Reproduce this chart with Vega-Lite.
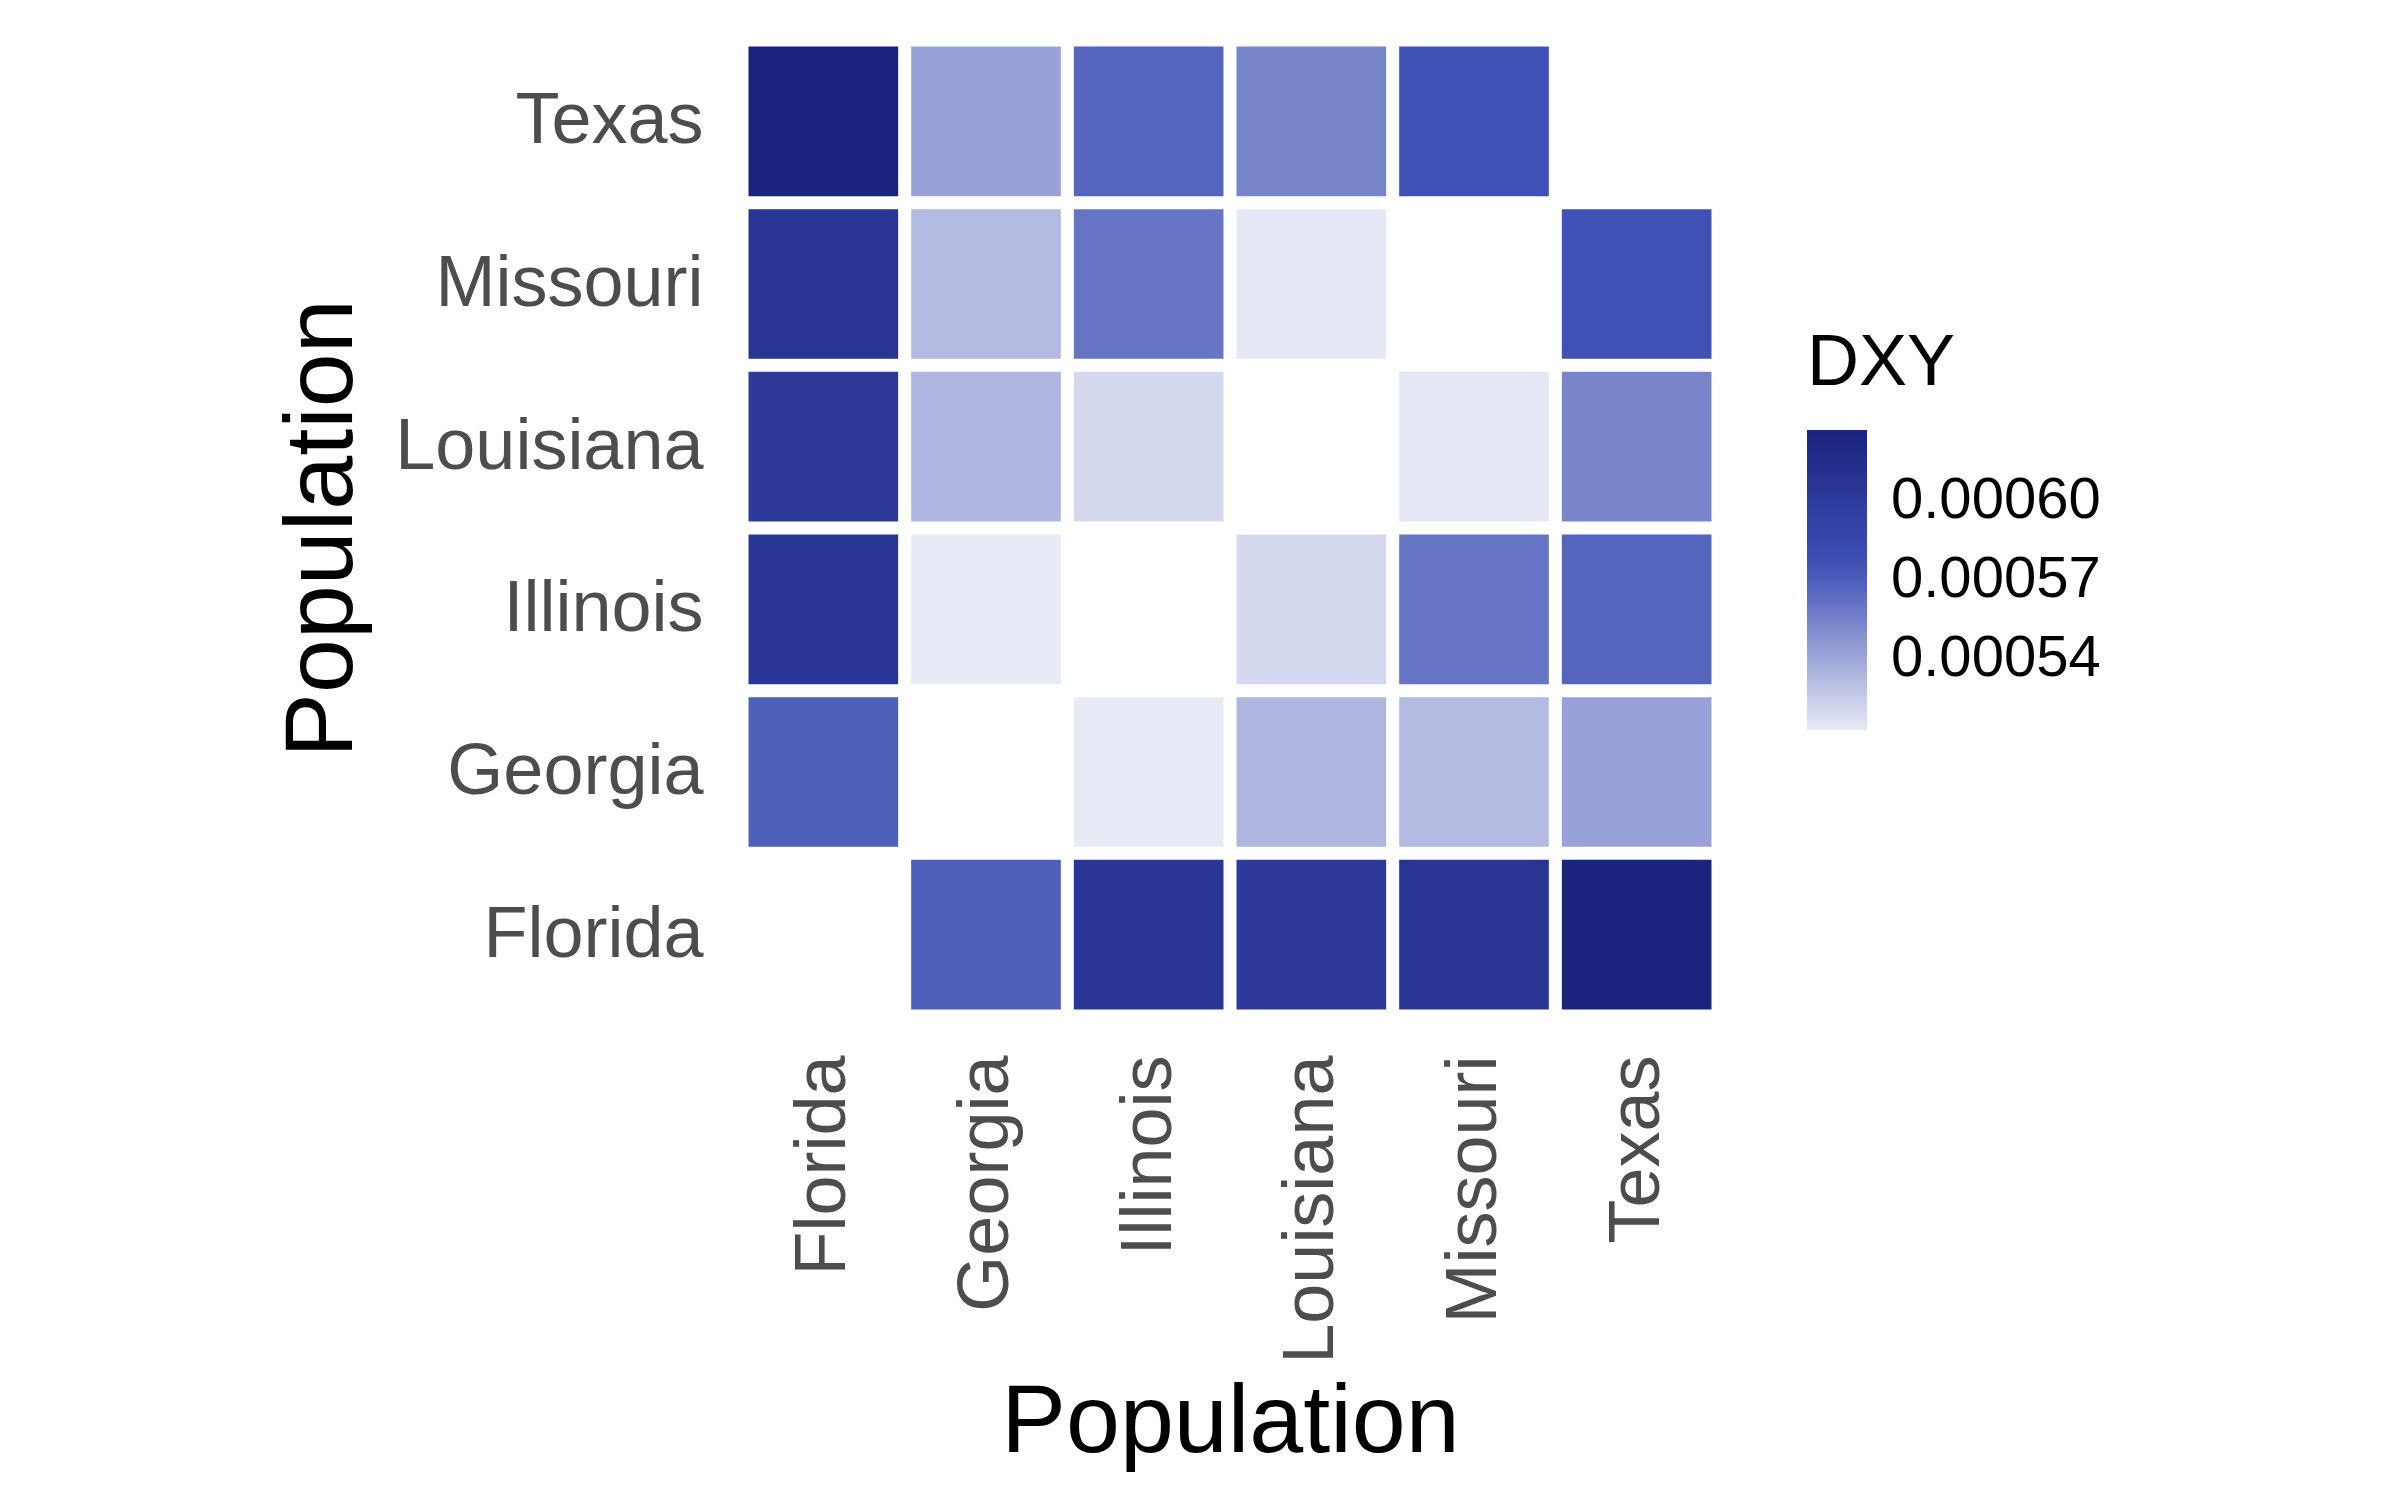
{
  "$schema": "https://vega.github.io/schema/vega-lite/v6.json",
  "width": 976,
  "height": 976,
  "autosize": {"type": "none"},
  "padding": {"left": 742, "top": 40, "right": 682, "bottom": 484},
  "background": "white",
  "config": {
    "view": {"stroke": null},
    "font": "Liberation Sans",
    "axis": {"domain": false, "ticks": false, "grid": false, "labelColor": "#4D4D4D", "titleColor": "#000000", "labelFontSize": 72, "titleFontSize": 97, "titleFontWeight": "normal", "labelPadding": 39, "labelLimit": 0}
  },
  "data": {
    "values": [
      {"a": "Florida", "b": "Georgia", "d": 0.000569},
      {"a": "Florida", "b": "Illinois", "d": 0.000605},
      {"a": "Florida", "b": "Louisiana", "d": 0.000602},
      {"a": "Florida", "b": "Missouri", "d": 0.000607},
      {"a": "Florida", "b": "Texas", "d": 0.000627},
      {"a": "Georgia", "b": "Florida", "d": 0.000569},
      {"a": "Georgia", "b": "Illinois", "d": 0.000513},
      {"a": "Georgia", "b": "Louisiana", "d": 0.000534},
      {"a": "Georgia", "b": "Missouri", "d": 0.000532},
      {"a": "Georgia", "b": "Texas", "d": 0.000542},
      {"a": "Illinois", "b": "Florida", "d": 0.000605},
      {"a": "Illinois", "b": "Georgia", "d": 0.000513},
      {"a": "Illinois", "b": "Louisiana", "d": 0.000520},
      {"a": "Illinois", "b": "Missouri", "d": 0.000561},
      {"a": "Illinois", "b": "Texas", "d": 0.000567},
      {"a": "Louisiana", "b": "Florida", "d": 0.000602},
      {"a": "Louisiana", "b": "Georgia", "d": 0.000534},
      {"a": "Louisiana", "b": "Illinois", "d": 0.000520},
      {"a": "Louisiana", "b": "Missouri", "d": 0.000514},
      {"a": "Louisiana", "b": "Texas", "d": 0.000554},
      {"a": "Missouri", "b": "Florida", "d": 0.000607},
      {"a": "Missouri", "b": "Georgia", "d": 0.000532},
      {"a": "Missouri", "b": "Illinois", "d": 0.000561},
      {"a": "Missouri", "b": "Louisiana", "d": 0.000514},
      {"a": "Missouri", "b": "Texas", "d": 0.000575},
      {"a": "Texas", "b": "Florida", "d": 0.000627},
      {"a": "Texas", "b": "Georgia", "d": 0.000542},
      {"a": "Texas", "b": "Illinois", "d": 0.000567},
      {"a": "Texas", "b": "Louisiana", "d": 0.000554},
      {"a": "Texas", "b": "Missouri", "d": 0.000575}
    ]
  },
  "mark": {"type": "rect"},
  "encoding": {
    "x": {
      "field": "a", "type": "nominal", "title": "Population",
      "sort": ["Florida", "Georgia", "Illinois", "Louisiana", "Missouri", "Texas"],
      "scale": {"domain": ["Florida", "Georgia", "Illinois", "Louisiana", "Missouri", "Texas"], "paddingInner": 0.08, "paddingOuter": 0.04},
      "axis": {"labelAngle": 270, "titlePadding": 158}
    },
    "y": {
      "field": "b", "type": "nominal", "title": "Population",
      "scale": {"domain": ["Texas", "Missouri", "Louisiana", "Illinois", "Georgia", "Florida"], "paddingInner": 0.08, "paddingOuter": 0.04},
      "axis": {"titlePadding": 171}
    },
    "color": {
      "field": "d", "type": "quantitative", "title": "DXY",
      "scale": {"domain": [0.000513, 0.000575, 0.000627], "range": ["#E8EAF6", "#3F51B5", "#1A237E"], "interpolate": "rgb"},
      "legend": {
        "orient": "none", "legendX": 1065, "legendY": 288,
        "values": [0.00054, 0.00057, 0.0006], "format": ".5f",
        "gradientLength": 300, "gradientThickness": 60,
        "titleFontSize": 72, "titleFontWeight": "normal", "titleColor": "#000000", "titlePadding": 30,
        "labelFontSize": 58, "labelColor": "#000000", "labelOffset": 24
      }
    }
  }
}
